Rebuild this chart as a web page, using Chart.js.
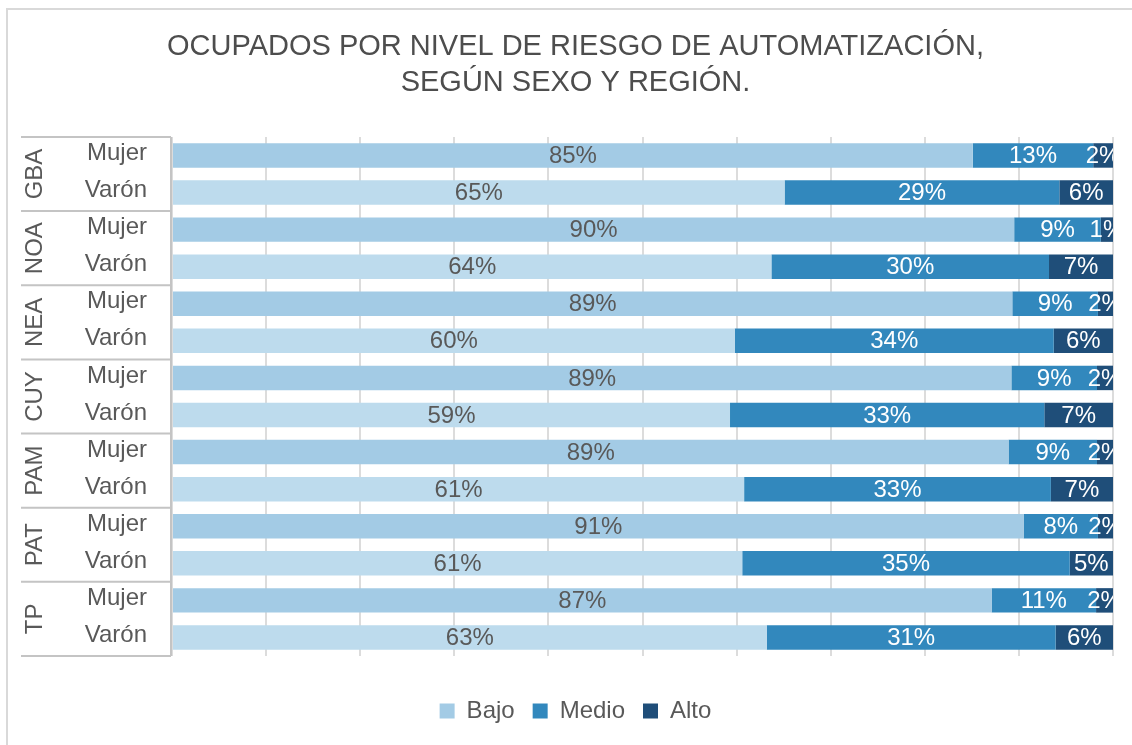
<!DOCTYPE html>
<html>
<head>
<meta charset="utf-8">
<script src="https://cdn.jsdelivr.net/npm/chart.js@4/dist/chart.umd.min.js"></script>
<style>
  body { margin: 0; background: #fff; }
  #wrap { width: 1132px; height: 745px; }
</style>
</head>
<body>
<div id="wrap"><canvas id="grafico" width="1132" height="745"></canvas></div>
<script>
const regiones = ['GBA', 'NOA', 'NEA', 'CUY', 'PAM', 'PAT', 'TP'];
const sexos = ['Mujer', 'Varón'];
const series = ['Bajo', 'Medio', 'Alto'];

// porcentajes por fila (region x sexo), de arriba hacia abajo
const bajo  = [85.1, 65.1, 89.5, 63.7, 89.3, 59.8, 89.2, 59.3, 88.9, 60.8, 90.5, 60.6, 87.1, 63.2];
const medio = [12.8, 29.2,  9.2, 29.5,  9.1, 33.9,  9.1, 33.4,  9.4, 32.6,  7.9, 34.8, 11.1, 30.7];
const alto  = [ 2.1,  5.7,  1.3,  6.8,  1.6,  6.3,  1.7,  7.3,  1.7,  6.6,  1.6,  4.6,  1.8,  6.1];

const etiquetas = regiones.flatMap(() => sexos);
const gris = '#595959';
const fuente = "'Liberation Sans', Arial, sans-serif";

// bajo: mujer un poco mas oscuro que varon
const coloresBajo = etiquetas.map((s, i) => i % 2 === 0 ? '#A3CBE5' : '#BDDBED');

const etiquetasBarras = {
  id: 'etiquetasBarras',
  afterDatasetsDraw(chart) {
    const ctx = chart.ctx;
    const area = chart.chartArea;
    ctx.save();
    ctx.beginPath();
    ctx.rect(area.left, area.top, area.right - area.left, area.bottom - area.top);
    ctx.clip();
    ctx.font = '24px ' + fuente;
    ctx.textAlign = 'center';
    ctx.textBaseline = 'middle';
    chart.data.datasets.forEach((ds, d) => {
      ctx.fillStyle = d === 0 ? gris : '#ffffff';
      chart.getDatasetMeta(d).data.forEach((bar, i) => {
        const x = (bar.x + bar.base) / 2;
        ctx.fillText(Math.round(ds.data[i]) + '%', x, bar.y + 1);
      });
    });
    ctx.restore();
  }
};

const tablaRegiones = {
  id: 'tablaRegiones',
  beforeDraw(chart) {
    const ctx = chart.ctx;
    ctx.save();
    ctx.strokeStyle = '#D9D9D9';
    ctx.lineWidth = 2;
    ctx.beginPath();
    ctx.moveTo(7, 745);
    ctx.lineTo(7, 9);
    ctx.lineTo(1132, 9);
    ctx.stroke();
    ctx.restore();
  },
  afterDraw(chart) {
    const ctx = chart.ctx;
    const y = chart.scales.y;
    const area = chart.chartArea;
    const izq = 21;
    ctx.save();
    ctx.strokeStyle = '#C4C4C4';
    ctx.lineWidth = 2;
    const lineas = [area.top];
    for (let k = 1; k < regiones.length; k++) {
      lineas.push((y.getPixelForValue(2 * k - 1) + y.getPixelForValue(2 * k)) / 2);
    }
    lineas.push(area.bottom);
    ctx.beginPath();
    lineas.forEach(py => {
      ctx.moveTo(izq, py);
      ctx.lineTo(area.left - 1, py);
    });
    ctx.moveTo(area.left - 1, area.top);
    ctx.lineTo(area.left - 1, area.bottom);
    ctx.stroke();

    ctx.fillStyle = gris;
    ctx.font = '24px ' + fuente;
    ctx.textAlign = 'center';
    ctx.textBaseline = 'middle';
    regiones.forEach((r, k) => {
      const cy = (lineas[k] + lineas[k + 1]) / 2;
      ctx.save();
      ctx.translate(35, cy);
      ctx.rotate(-Math.PI / 2);
      ctx.fillText(r, 0, 0);
      ctx.restore();
    });
    ctx.restore();
  }
};

const data = {
  labels: etiquetas,
  datasets: [
    { label: series[0], data: bajo, backgroundColor: coloresBajo },
    { label: series[1], data: medio, backgroundColor: '#3288BD' },
    { label: series[2], data: alto, backgroundColor: '#1F4E79' }
  ]
};

const options = {
  indexAxis: 'y',
  responsive: false,
  animation: false,
  layout: { padding: { left: 38, right: 19, top: 0, bottom: 12 } },
  datasets: { bar: { barPercentage: 0.66, categoryPercentage: 1 } },
  scales: {
    x: {
      stacked: true,
      min: 0,
      max: 100,
      ticks: { display: false, stepSize: 10 },
      grid: { color: '#DCDCDC', lineWidth: 2, drawTicks: false },
      border: { display: false },
      afterFit(scale) { scale.height = 25; }
    },
    y: {
      stacked: true,
      ticks: { autoSkip: false, color: gris, font: { size: 24, family: fuente }, padding: 25, labelOffset: -2 },
      grid: { display: false, drawTicks: false },
      border: { display: false },
      afterFit(scale) { scale.width = 134; }
    }
  },
  plugins: {
    title: {
      display: true,
      text: ['OCUPADOS POR NIVEL DE RIESGO DE AUTOMATIZACIÓN,', 'SEGÚN SEXO Y REGIÓN.'],
      color: '#4D4D4D',
      font: { size: 29, family: fuente, weight: 'normal', lineHeight: 1.24 },
      padding: { top: 29, bottom: 36 }
    },
    legend: {
      position: 'bottom',
      labels: {
        color: gris,
        font: { size: 24, family: fuente },
        boxWidth: 15,
        boxHeight: 15,
        padding: 18
      }
    },
    tooltip: { enabled: false }
  }
};

const config = {
  type: 'bar',
  data,
  options,
  plugins: [etiquetasBarras, tablaRegiones]
};

const ctx = document.getElementById('grafico').getContext('2d');
const myChart = new Chart(ctx, config);
</script>
</body>
</html>
